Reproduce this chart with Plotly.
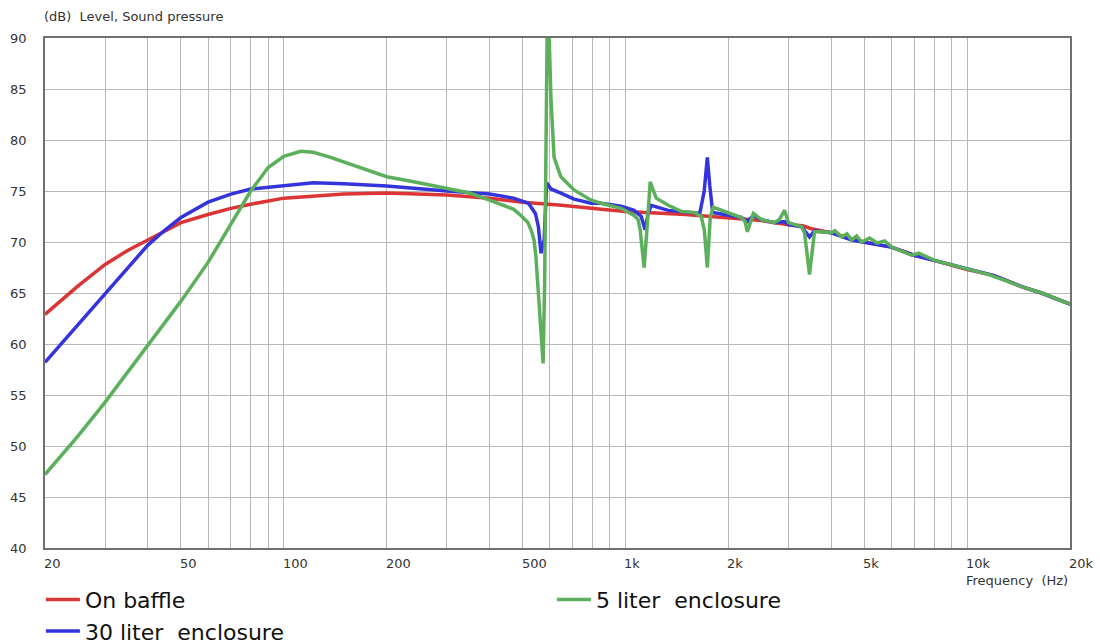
import math
import plotly.graph_objects as go

# ---------------- data ----------------
freq_baffle = [20, 25, 30, 35, 40, 45, 50, 60, 70, 80, 100, 150, 200, 300, 400, 500, 650, 850,
               1000, 1500, 2000, 2500, 3000, 3300, 3500, 4000, 4600, 5000, 6000, 7000, 8000,
               10000, 12000, 14500, 16500, 20000]
db_baffle = [62.9, 65.7, 67.8, 69.2, 70.2, 71.1, 71.9, 72.7, 73.3, 73.7, 74.3, 74.7, 74.8, 74.6, 74.3,
             73.9, 73.6, 73.2, 73.0, 72.7, 72.4, 72.1, 71.7, 71.6, 71.3, 70.9, 70.3, 70.0, 69.5, 68.7,
             68.2, 67.3, 66.7, 65.6, 65.0, 63.9]

freq_30l = [20, 25, 30, 35, 40, 45, 50, 60, 70, 80, 100, 122, 150, 200, 300, 400, 470, 520, 545,
            556, 566, 578, 588, 605, 647, 707, 793, 848, 971, 1060, 1112, 1141, 1165, 1189, 1334,
            1650, 1700, 1736, 1765, 1800, 2184, 2274, 2368, 2500, 2728, 2920, 3000, 3274, 3456,
            3575, 3748, 4010, 4590, 5000, 6000, 7000, 8000, 10000, 12000, 14500, 16500, 20000]
db_30l = [58.2, 61.9, 65.0, 67.5, 69.7, 71.2, 72.4, 73.9, 74.7, 75.2, 75.5, 75.8, 75.7, 75.5, 75.0,
          74.7, 74.3, 73.8, 72.8, 71.5, 68.9, 70.2, 75.8, 75.2, 74.8, 74.2, 73.8, 73.8, 73.5, 73.1,
          72.5, 71.2, 72.8, 73.6, 73.1, 72.8, 75.0, 78.3, 75.5, 72.9, 72.4, 72.0, 72.6, 72.2, 71.9,
          72.0, 71.7, 71.5, 70.5, 71.1, 71.0, 70.9, 70.2, 70.0, 69.5, 68.7, 68.2, 67.3, 66.7, 65.6,
          65.0, 63.9]

freq_5l = [20, 25, 30, 35, 40, 45, 50, 60, 70, 80, 90, 100, 112, 122, 137, 154, 200, 240, 300, 350,
           400, 432, 471, 494, 518, 529, 540, 547, 558, 566, 574, 580, 585, 590, 597, 605, 618, 647,
           707, 793, 848, 971, 1060, 1089, 1104, 1134, 1160, 1181, 1230, 1334, 1456, 1590, 1666,
           1701, 1736, 1771, 1808, 1908, 2184, 2240, 2274, 2368, 2500, 2728, 2822, 2920, 3000,
           3274, 3342, 3456, 3575, 3748, 4010, 4100, 4290, 4450, 4590, 4750, 4910, 5182, 5450,
           5736, 6012, 6882, 7214, 8036, 10110, 11576, 13246, 14460, 16552, 20000]
db_5l = [47.2, 51.0, 54.3, 57.3, 59.9, 62.2, 64.2, 68.0, 71.8, 75.0, 77.3, 78.4, 78.9, 78.8, 78.3,
         77.7, 76.4, 75.9, 75.2, 74.8, 74.1, 73.7, 73.2, 72.6, 71.9, 71.2, 70.2, 68.5, 64.6, 61.0,
         58.1, 66.0, 80.0, 91.0, 91.0, 84.2, 78.3, 76.4, 75.1, 74.1, 73.8, 73.3, 72.6, 72.2, 71.2,
         67.5, 72.0, 75.9, 74.3, 73.6, 73.0, 72.9, 72.5, 71.2, 67.5, 72.5, 73.4, 73.1, 72.4, 72.0,
         71.0, 72.8, 72.2, 71.9, 72.2, 73.1, 71.9, 71.5, 70.9, 66.8, 71.0, 71.0, 70.9, 71.1, 70.5,
         70.8, 70.2, 70.6, 70.0, 70.4, 69.9, 70.1, 69.5, 68.7, 68.9, 68.2, 67.3, 66.8, 66.1, 65.6,
         65.0, 63.9]

series_names = ["On baffle", "30 liter\u00a0 enclosure", "5 liter\u00a0 enclosure"]
series_colors = ["#dc3535", "#3434dc", "#5cb05c"]
legend_ranks = [1, 3, 2]

x_tick_vals = [20, 50, 100, 200, 500, 1000, 2000, 5000, 10000, 20000]
x_tick_text = ["20", "50", "100", "200", "500", "1k", "2k", "5k", "10k", "20k"]
x_grid_vals = [v * m for m in (10, 100, 1000) for v in range(2, 10)] + [100, 1000, 10000, 20000]
x_major_grid = [100, 1000, 10000]
x_half_ticks = [25, 35, 45, 150, 250, 350, 450, 1500, 2500, 3500, 4500, 15000]
y_tick_vals = [40, 45, 50, 55, 60, 65, 70, 75, 80, 85, 90]
y_major_grid = [40, 50, 60, 70, 80, 90]

assert len(freq_baffle) == len(db_baffle)
assert len(freq_30l) == len(db_30l)
assert len(freq_5l) == len(db_5l)

FONT = "DejaVu Sans"

fig = go.Figure()
for fx, fy, name, col, rk in zip([freq_baffle, freq_30l, freq_5l], [db_baffle, db_30l, db_5l],
                                 series_names, series_colors, legend_ranks):
    fig.add_trace(go.Scatter(x=fx, y=fy, mode="lines", name=name, legendrank=rk,
                             line=dict(color=col, width=3.5)))

xr = [math.log10(20), math.log10(20000)]
fig.update_layout(
    width=1100, height=644,
    margin=dict(l=45, r=30, t=38, b=96, autoexpand=False),
    paper_bgcolor="white", plot_bgcolor="white",
    font=dict(family=FONT, size=13, color="#333333"),
    xaxis=dict(type="log", range=xr, tickmode="array", tickvals=x_grid_vals,
               showticklabels=False, ticks="", showgrid=True, gridcolor="#b8b8b8", gridwidth=1,
               showline=True, linecolor="#707070", linewidth=1.5, mirror=True, zeroline=False),
    xaxis2=dict(type="log", range=xr, overlaying="x", anchor="y", tickmode="array",
                tickvals=x_major_grid, showticklabels=False, ticks="", showgrid=True,
                gridcolor="#858585", gridwidth=1, showline=False, zeroline=False,
                minor=dict(tickmode="array", tickvals=x_half_ticks, ticks="inside", ticklen=4,
                           tickcolor="#909090", showgrid=False),
                mirror="ticks"),
    yaxis=dict(range=[40, 90], tickmode="array", tickvals=y_tick_vals,
               ticktext=[str(v) for v in y_tick_vals], ticks="", ticklabelstandoff=14,
               showgrid=True, gridcolor="#b8b8b8", gridwidth=1, showline=True,
               linecolor="#707070", linewidth=1.5, mirror=True, zeroline=False,
               tickfont=dict(size=13, color="#333333")),
    yaxis2=dict(range=[40, 90], overlaying="y", anchor="x", tickmode="array",
                tickvals=y_major_grid, showticklabels=False, ticks="", showgrid=True,
                gridcolor="#858585", gridwidth=1, zeroline=False),
    showlegend=True,
    legend=dict(orientation="h", x=-0.004, xanchor="left", y=-0.060, yanchor="top",
                entrywidth=462, entrywidthmode="pixels", traceorder="normal",
                font=dict(family=FONT, size=22, color="#111111"), bgcolor="rgba(0,0,0,0)",
                itemwidth=34),
)

annotations = []
for v, t in zip(x_tick_vals, x_tick_text):
    annotations.append(dict(x=math.log10(v), xref="x", y=0, yref="paper", text=t,
                            showarrow=False, xanchor="left", yanchor="top", yshift=-6,
                            xshift=-3, font=dict(family=FONT, size=13, color="#333333")))
annotations.append(dict(x=1, xref="paper", y=0, yref="paper", text="Frequency\u00a0 (Hz)",
                        showarrow=False, xanchor="right", yanchor="top", yshift=-23,
                        font=dict(family=FONT, size=13, color="#333333")))
annotations.append(dict(x=0, xref="paper", y=1, yref="paper",
                        text="(dB)\u00a0 Level, Sound pressure",
                        showarrow=False, xanchor="left", yanchor="middle", yshift=22, xshift=-3,
                        font=dict(family=FONT, size=13, color="#333333")))
fig.update_layout(annotations=annotations)

fig.write_html("out.html")
